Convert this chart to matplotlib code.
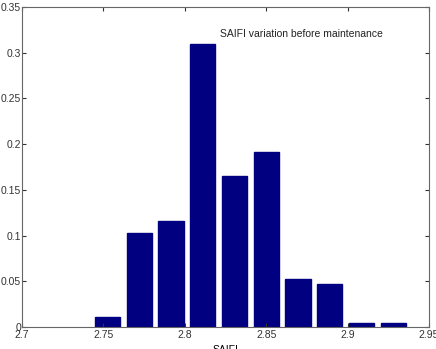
import matplotlib
matplotlib.use("Agg")
import matplotlib.pyplot as plt

centers = [2.7525, 2.772, 2.7915, 2.811, 2.8305, 2.85, 2.8695, 2.889, 2.9085, 2.928]
freqs = [0.0105, 0.103, 0.116, 0.31, 0.165, 0.1915, 0.053, 0.0465, 0.004, 0.004]
xticks = [2.7, 2.75, 2.8, 2.85, 2.9, 2.95]
xticklabels = ["2.7", "2.75", "2.8", "2.85", "2.9", "2.95"]
yticks = [0, 0.05, 0.1, 0.15, 0.2, 0.25, 0.3, 0.35]
yticklabels = ["0", "0.05", "0.1", "0.15", "0.2", "0.25", "0.3", "0.35"]

plt.rcParams['font.family'] = ['Liberation Sans', 'DejaVu Sans']
fig = plt.figure(figsize=(4.36, 3.49), dpi=100)
ax = fig.add_axes([0.0505, 0.063, 0.9335, 0.917])
ax.bar(centers, freqs, width=0.0155, color='#000080', edgecolor='#000080')
ax.set_xlim(2.7, 2.95)
ax.set_ylim(0, 0.35)
ax.set_xticks(xticks)
ax.set_xticklabels(xticklabels)
ax.set_yticks(yticks)
ax.set_yticklabels(yticklabels)
ax.tick_params(direction='in', top=True, right=True, labelsize=7.5, length=3, colors='#333333')
ax.tick_params(axis='y', pad=0.8)
ax.tick_params(axis='x', pad=2.5)
for s in ax.spines.values():
    s.set_color('#666666')
    s.set_linewidth(0.8)
ax.text(2.8215, 0.3205, "SAIFI variation before maintenance", fontsize=7.5, color='#222222', va='center')
ax.set_xlabel("SAIFI", fontsize=7.5, labelpad=3)
fig.savefig("out.png", dpi=100)
